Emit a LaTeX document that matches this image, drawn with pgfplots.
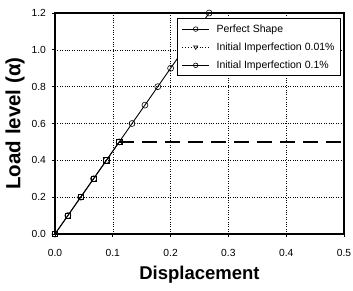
\documentclass[border=0pt]{standalone}
\usepackage{fontspec}
\setmainfont{Liberation Sans}
\usepackage{pgfplots}
\pgfplotsset{compat=1.18}
\begin{document}
\begin{tikzpicture}
\begin{axis}[
  at={(0,0)}, anchor=south west,
  scale only axis, width=289pt, height=221pt,
  xmin=0, xmax=0.5, ymin=0, ymax=1.2,
  xtick={0,0.1,0.2,0.3,0.4,0.5},
  ytick={0,0.2,0.4,0.6,0.8,1.0,1.2},
  /pgf/number format/assume math mode=true,
  xticklabel style={/pgf/number format/.cd, fixed, fixed zerofill, precision=1, /tikz/.cd, yshift=-9pt},
  yticklabel style={/pgf/number format/.cd, fixed, fixed zerofill, precision=1, /tikz/.cd, xshift=-3pt},
  ticklabel style={font=\fontsize{10.3}{12}\selectfont},
  tick align=outside, major tick length=2.5pt,
  tick style={black, line width=0.8pt},
  xtick pos=bottom, ytick pos=left,
  axis line style={line width=1.6pt},
  grid=major,
  major grid style={dotted, black, line width=0.5pt},
  xlabel={\textbf{Displacement}},
  ylabel={\textbf{Load level (α)}},
  xlabel style={font=\fontsize{18.5}{20}\selectfont, at={(axis description cs:0.5,-0.204)}, anchor=base},
  ylabel style={font=\fontsize{20.5}{22}\selectfont, at={(axis description cs:-0.138,0.5)}, anchor=center},
  legend style={at={(axis description cs:0.9896,0.977)}, anchor=north east, font=\fontsize{10.5}{12}\selectfont,
    draw=black, line width=0.9pt, inner xsep=4pt, inner ysep=4pt, row sep=5pt, cells={anchor=west},
    /tikz/every odd column/.append style={column sep=5pt},
    legend image code/.code={\draw[mark repeat=2,mark phase=2,#1] plot coordinates {(0pt,0pt) (13.5pt,0pt) (27pt,0pt)};}},
  legend cell align=left,
  clip=true,
]
\addplot[black, line width=0.9pt, mark=o, mark size=3pt, mark options={fill=white, solid, line width=0.6pt}, forget plot]
 coordinates {(0,0) (0.0222,0.1) (0.0444,0.2) (0.0667,0.3) (0.0889,0.4) (0.1111,0.5) (0.1333,0.6) (0.1556,0.7) (0.1778,0.8) (0.2,0.9) (0.2222,1.0) (0.2444,1.1) (0.2667,1.2)};
\addplot[black, line width=1.3pt, dash pattern=on 15pt off 8pt, forget plot]
 coordinates {(0.1111,0.5) (0.5,0.5)};
\addplot[black, line width=0.9pt, mark=square, mark size=2.6pt, mark options={fill=white, solid, line width=0.6pt}, forget plot]
 coordinates {(0,0) (0.0222,0.1) (0.0444,0.2) (0.0667,0.3) (0.0889,0.4) (0.1111,0.5)};
\addlegendimage{black, line width=0.9pt, mark=o, mark size=2.3pt, mark options={fill=white, line width=0.6pt}}
\addlegendentry{Perfect Shape}
\addlegendimage{black, dotted, line width=0.9pt, mark=triangle, mark size=2.3pt, mark options={fill=white, solid, rotate=180, line width=0.6pt}}
\addlegendentry{Initial Imperfection 0.01\%}
\addlegendimage{black, line width=0.9pt, mark=o, mark size=2.3pt, mark options={fill=white, line width=0.6pt}}
\addlegendentry{Initial Imperfection 0.1\%}
\end{axis}
\pgfresetboundingbox
\useasboundingbox (-55pt,-56pt) rectangle (298pt,234pt);
\end{tikzpicture}
\end{document}
